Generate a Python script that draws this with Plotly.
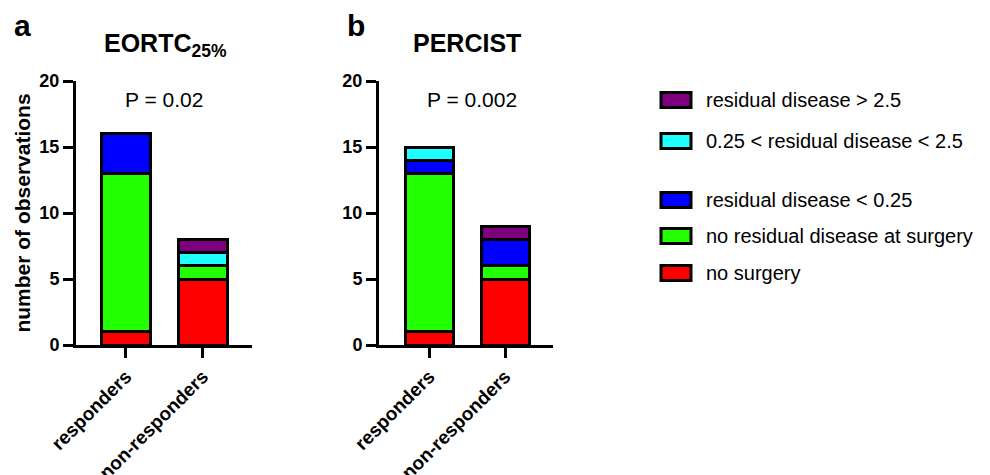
import plotly.graph_objects as go

categories = ["responders", "non-responders"]
series_names = ["no surgery", "no residual disease at surgery", "residual disease < 0.25",
                "0.25 < residual disease < 2.5", "residual disease > 2.5"]
colors = ["#FF0000", "#22FF00", "#0000FF", "#1EFFFF", "#7F007F"]

# EORTC 25% panel (a)
eortc_no_surgery = [1, 5]
eortc_no_residual = [12, 1]
eortc_lt_025 = [3, 0]
eortc_025_25 = [0, 1]
eortc_gt_25 = [0, 1]

# PERCIST panel (b)
percist_no_surgery = [1, 5]
percist_no_residual = [12, 1]
percist_lt_025 = [1, 2]
percist_025_25 = [1, 0]
percist_gt_25 = [0, 1]

y_ticks = [0, 5, 10, 15, 20]

# page body has an 8px margin; size the figure to fit the window
OFF = 8
W, H = 990 - OFF, 475 - OFF
def px(x): return (x - OFF) / W
def py(y): return 1 - (y - OFF) / H

FONT = "Arial, Liberation Sans, sans-serif"

fig = go.Figure()
panels = [
    ("x", "y", [eortc_no_surgery, eortc_no_residual, eortc_lt_025, eortc_025_25, eortc_gt_25]),
    ("x2", "y2", [percist_no_surgery, percist_no_residual, percist_lt_025, percist_025_25, percist_gt_25]),
]
for xa, ya, series in panels:
    for name, col, vals in zip(series_names, colors, series):
        fig.add_trace(go.Bar(
            x=categories, y=[v if v else None for v in vals], name=name,
            xaxis=xa, yaxis=ya, width=0.63, showlegend=False,
            marker=dict(color=col, line=dict(color="black", width=3)),
        ))

axis_common = dict(showline=True, linecolor="black", linewidth=3, ticks="outside",
                   ticklen=10, tickwidth=3, tickcolor="black", showgrid=False, zeroline=False,
                   automargin=False,
                   tickfont=dict(family=FONT, size=18, color="black", weight="bold"))
xfont = dict(family=FONT, size=19, color="black", weight="bold")

fig.update_layout(
    width=W, height=H, margin=dict(l=0, r=0, t=0, b=0),
    paper_bgcolor="white", plot_bgcolor="white", barmode="stack", showlegend=False,
    xaxis=dict(domain=[px(76), px(252)], range=[-0.65, 1.64], tickangle=-45, anchor="y", **axis_common),
    yaxis=dict(domain=[py(345), py(81)], range=[0, 20], tickvals=y_ticks, anchor="x",
               title=dict(text="number of observations", standoff=4,
                          font=dict(family=FONT, size=21, color="black", weight="bold")),
               **axis_common),
    xaxis2=dict(domain=[px(379), px(553)], range=[-0.66, 1.63], tickangle=-45, anchor="y2", **axis_common),
    yaxis2=dict(domain=[py(345), py(81)], range=[0, 20], tickvals=y_ticks, anchor="x2", **axis_common),
)
fig.update_xaxes(tickfont=xfont)

ann = []
def text(x, y, t, size, bold=False, xanchor="center"):
    ann.append(dict(x=px(x), y=py(y), xref="paper", yref="paper", text=t, showarrow=False,
                    xanchor=xanchor, yanchor="middle",
                    font=dict(family=FONT, size=size, color="black", weight="bold" if bold else "normal")))

text(22, 26, "a", 30, True)
text(356, 26, "b", 30, True)
text(165, 45, "EORTC<sub>25%</sub>", 25, True)
text(467, 43, "PERCIST", 25, True)
text(164, 100, "P = 0.02", 21)
text(472, 100, "P = 0.002", 21)

# Legend (manual)
legend_order = [4, 3, 2, 1, 0]
legend_y = [100, 141, 200, 236, 273]
shapes = []
for idx, yc in zip(legend_order, legend_y):
    shapes.append(dict(type="rect", xref="paper", yref="paper",
                       x0=px(661), x1=px(691), y0=py(yc + 7.5), y1=py(yc - 7.5),
                       fillcolor=colors[idx], line=dict(color="black", width=3)))
    text(704, yc, series_names[idx], 20, xanchor="left")

fig.update_layout(annotations=ann, shapes=shapes)
fig.write_html("out.html")
